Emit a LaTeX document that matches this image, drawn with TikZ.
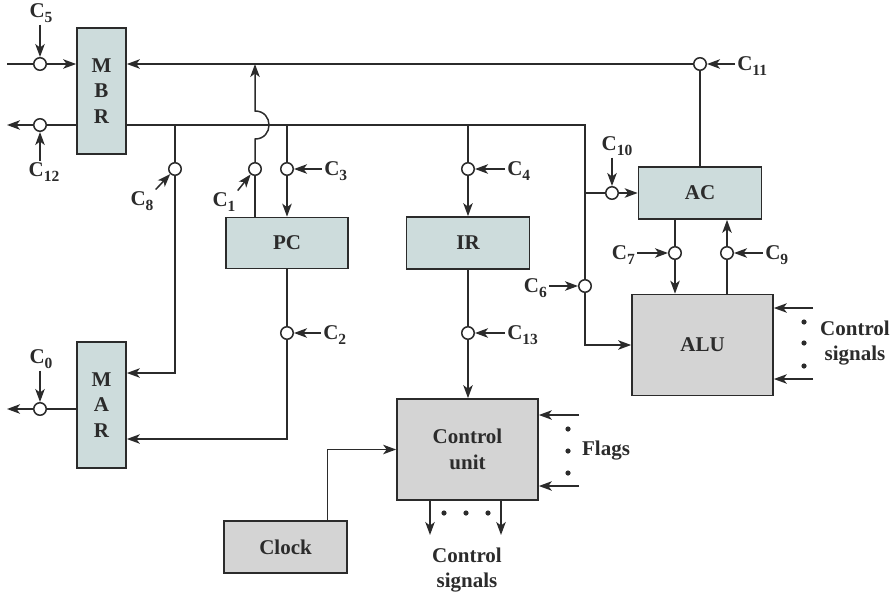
\documentclass[tikz,border=0pt]{standalone}
\usepackage{fontspec}
\setmainfont{Liberation Serif}
\usetikzlibrary{arrows.meta, positioning}
\definecolor{creg}{HTML}{CDDCDC}
\definecolor{cunit}{HTML}{D4D4D4}
\definecolor{cline}{HTML}{2B2B2B}
\newcommand{\Csub}[1]{C\raisebox{-4.5pt}{\fontsize{15.5}{15.5}\selectfont #1}}
\tikzset{
  every picture/.style={font=\bfseries\fontsize{21}{25.5}\selectfont, line width=1.5pt, color=cline},
  box/.style={draw=cline, fill=#1, line width=1.7pt, inner sep=0pt, align=center},
  box/.default=creg,
  gate/.style={circle, draw=cline, fill=white, line width=1.5pt, inner sep=0pt, minimum size=12.5pt},
  sig/.style={inner sep=1.5pt},
  arrow/.style={-{Stealth[length=13pt, width=9.5pt, inset=3.5pt]}, draw=cline},
}

\begin{document}
\begin{tikzpicture}[x=1pt, y=-1pt]
  \useasboundingbox (0,0) rectangle (896,595);
  % the registers and units
  \node[box, minimum width=49pt, minimum height=126pt] (mbr) at (101.5,91) {M\\B\\R};
  \node[box, minimum width=49pt, minimum height=126pt] (mar) at (101.5,405) {M\\A\\R};
  \node[box, minimum width=122pt, minimum height=51pt] (pc) at (287,243) {PC};
  \node[box, minimum width=123pt, minimum height=52pt] (ir) at (468,243) {IR};
  \node[box, minimum width=123pt, minimum height=52pt] (ac) at (700,193) {AC};
  \node[box=cunit, minimum width=141pt, minimum height=101pt] (alu) at (702.5,345) {ALU};
  \node[box=cunit, minimum width=141pt, minimum height=101pt] (cu) at (467.5,449.5) {Control\\unit};
  \node[box=cunit, minimum width=123pt, minimum height=52pt] (clock) at (285.5,547) {Clock};
  % the gates, one per control signal
  \foreach \n/\x/\y in {0/40/409, 1/255/169, 2/287/333, 3/287/169, 4/468/169, 5/40/64, 6/585/286,
      7/675/253, 8/175/169, 9/727/253, 10/612/193, 11/700/64, 12/40/125, 13/468/333}
    \node[gate] (g\n) at (\x,\y) {};
  % signal names
  \node[sig] (l5) at (41,13) {\Csub{5}};
  \node[sig] (l12) at (44,172) {\Csub{12}};
  \node[sig] (l0) at (41,359) {\Csub{0}};
  \node[sig] (l8) at (142,201) {\Csub{8}};
  \node[sig] (l1) at (224,202) {\Csub{1}};
  \node[sig, anchor=west] (l3) at (322,171) {\Csub{3}};
  \node[sig, anchor=west] (l4) at (505,171) {\Csub{4}};
  \node[sig, anchor=west] (l13) at (505,335) {\Csub{13}};
  \node[sig, anchor=west] (l2) at (321,335) {\Csub{2}};
  \node[sig, anchor=west] (l11) at (735,66) {\Csub{11}};
  \node[sig] (l10) at (617,146) {\Csub{10}};
  \node[sig, anchor=east] (l7) at (637,255) {\Csub{7}};
  \node[sig, anchor=west] (l9) at (763,255) {\Csub{9}};
  \node[sig, anchor=east] (l6) at (549,288) {\Csub{6}};
  \draw[arrow] (g5 |- l5.south) -- (g5);
  \draw[arrow] (g12 |- l12.north) -- (g12);
  \draw[arrow] (g0 |- l0.south) -- (g0);
  \draw[arrow] (l8.north east) -- (g8);
  \draw[arrow] (l1.north east) -- (g1);
  \draw[arrow] (g3 -| l3.west) -- (g3);
  \draw[arrow] (g4 -| l4.west) -- (g4);
  \draw[arrow] (g13 -| l13.west) -- (g13);
  \draw[arrow] (g2 -| l2.west) -- (g2);
  \draw[arrow] (g11 -| l11.west) -- (g11);
  \draw[arrow] (g10 |- l10.south) -- (g10);
  \draw[arrow] (g7 -| l7.east) -- (g7);
  \draw[arrow] (g9 -| l9.west) -- (g9);
  \draw[arrow] (g6 -| l6.east) -- (g6);
  % MBR and MAR to the outside
  \coordinate (in5) at (7,64);
  \coordinate (out12) at (7,125);
  \coordinate (out0) at (7,409);
  \draw (in5) -- (g5);
  \draw[arrow] (g5) -- (g5 -| mbr.west);
  \draw (mbr.west |- g12) -- (g12);
  \draw[arrow] (g12) -- (out12);
  \draw (mar.west |- g0) -- (g0);
  \draw[arrow] (g0) -- (out0);
  % the two buses from AC and MBR
  \coordinate (bus) at (585,125);
  \draw[arrow] (g11) -- (mbr.east |- g11);
  \draw (g11) -- (ac.north);
  \draw (mbr.east |- bus) -- (bus) -- (g6);
  \draw[arrow] (g6) |- (alu.west);
  \draw (bus |- g10) -- (g10);
  \draw[arrow] (g10) -- (g10 -| ac.west);
  % branches down from the MBR bus
  \draw (g8 |- bus) -- (g8);
  \draw[arrow] (g8) |- ([yshift=32pt]mar.east);
  \draw (g3 |- bus) -- (g3);
  \draw[arrow] (g3) -- (pc.north);
  \draw (g4 |- bus) -- (g4);
  \draw[arrow] (g4) -- (ir.north);
  % PC back up, hopping over the bus
  \coordinate (hop) at (255,125);
  \draw (g1 |- pc.north) -- (g1);
  \draw[arrow] (g1) -- ([yshift=-14pt]hop) .. controls ([xshift=18.7pt,yshift=-14pt]hop) and ([xshift=18.7pt,yshift=14pt]hop) .. ([yshift=14pt]hop) -- (hop |- g11);
  \draw (pc.south) -- (g2);
  \draw[arrow] (g2) |- ([yshift=-34pt]mar.east);
  \draw (ir.south) -- (g13);
  \draw[arrow] (g13) -- (g13 |- cu.north);
  % AC and ALU
  \draw (g7 |- ac.south) -- (g7);
  \draw[arrow] (g7) -- (g7 |- alu.north);
  \draw (g9 |- alu.north) -- (g9);
  \draw[arrow] (g9) -- (g9 |- ac.south);
  \coordinate (a1) at (813,308);
  \coordinate (a2) at (813,379);
  \draw[arrow] (a1) -- (a1 -| alu.east);
  \draw[arrow] (a2) -- (a2 -| alu.east);
  \foreach \y in {322,343,366} \fill (804,\y) circle (2.6pt);
  \node[align=center] (aluctl) at (855,343) {Control\\signals};
  % control unit: clock, flags and outputs
  \draw[arrow] ([xshift=42pt]clock.north) |- (cu.west);
  \coordinate (f1) at (579,415);
  \coordinate (f2) at (579,486);
  \draw[arrow] (f1) -- (f1 -| cu.east);
  \draw[arrow] (f2) -- (f2 -| cu.east);
  \foreach \y in {429,451,473} \fill (568,\y) circle (2.6pt);
  \node[anchor=west] (flags) at (578,451) {Flags};
  \coordinate (o1) at (430,535);
  \coordinate (o2) at (501,535);
  \draw[arrow] (o1 |- cu.south) -- (o1);
  \draw[arrow] (o2 |- cu.south) -- (o2);
  \foreach \x in {444,466,488} \fill (\x,513) circle (2.6pt);
  \node[align=center] (cuctl) at (467,570) {Control\\signals};
\end{tikzpicture}
\end{document}
